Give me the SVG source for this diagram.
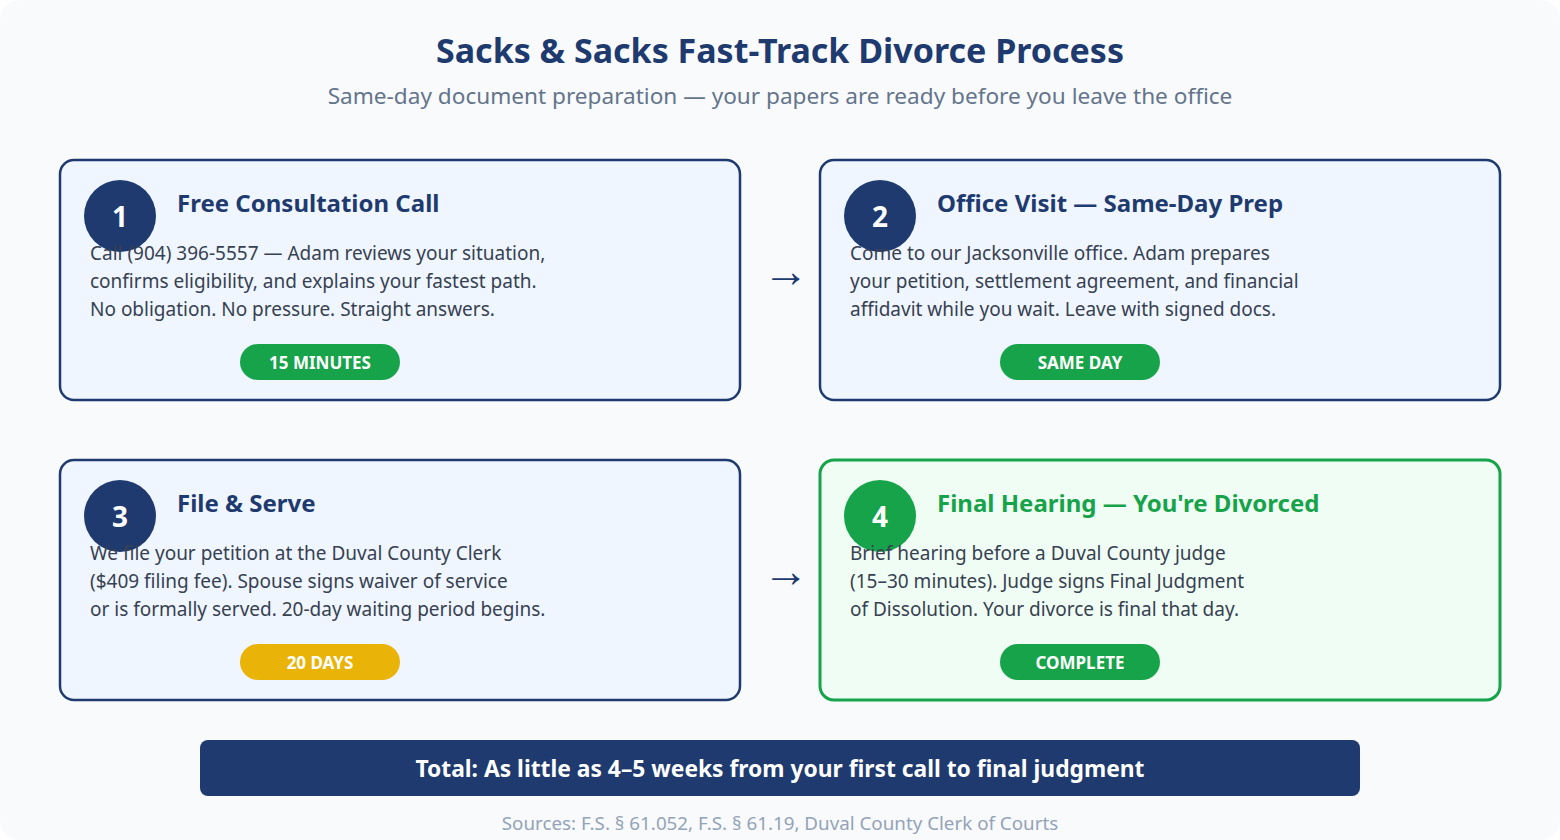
<svg xmlns="http://www.w3.org/2000/svg" width="1560" height="840" viewBox="0 0 1560 840">
<style>
text{font-family:"Noto Sans","Open Sans",sans-serif}
.card{fill:#eff6ff;stroke:#1e3a6e;stroke-width:2.5}
.cardg{fill:#f0fdf4;stroke:#16a34a;stroke-width:3}
.num{fill:#fff;font-size:28px;font-weight:700;text-anchor:middle}
.t{font-size:24px;font-weight:700;fill:#1e3a6e}
.b{font-size:19px;fill:#374151}
.bd{fill:#fff;font-size:17px;font-weight:700;text-anchor:middle}
.arr{font-size:46px;fill:#1e3a6e;text-anchor:middle}
</style>
<rect x="0" y="0" width="1560" height="840" rx="20" fill="#f8fafc"/>
<text x="780" y="63" text-anchor="middle" font-size="34" font-weight="700" fill="#1e3a6e">Sacks &amp; Sacks Fast-Track Divorce Process</text>
<text x="780" y="104" text-anchor="middle" font-size="22.6" fill="#64748b">Same-day document preparation — your papers are ready before you leave the office</text>
<g id="connectors">
<text class="arr" x="786" y="287">→</text>
<text class="arr" x="786" y="587">→</text>
</g>
<g id="step1">
<rect class="card" x="60" y="160" width="680" height="240" rx="14"/>
<circle cx="120" cy="216" r="36" fill="#1e3a6e"/><text class="num" x="120" y="227">1</text>
<text class="t" x="177" y="212">Free Consultation Call</text>
<text class="b" x="90" y="260">Call (904) 396-5557 — Adam reviews your situation,</text>
<text class="b" x="90" y="288">confirms eligibility, and explains your fastest path.</text>
<text class="b" x="90" y="316">No obligation. No pressure. Straight answers.</text>
<rect x="240" y="344" width="160" height="36" rx="18" fill="#16a34a"/><text class="bd" x="320" y="369">15 MINUTES</text>
</g>
<g id="step2">
<rect class="card" x="820" y="160" width="680" height="240" rx="14"/>
<circle cx="880" cy="216" r="36" fill="#1e3a6e"/><text class="num" x="880" y="227">2</text>
<text class="t" x="937" y="212">Office Visit — Same-Day Prep</text>
<text class="b" x="850" y="260">Come to our Jacksonville office. Adam prepares</text>
<text class="b" x="850" y="288">your petition, settlement agreement, and financial</text>
<text class="b" x="850" y="316">affidavit while you wait. Leave with signed docs.</text>
<rect x="1000" y="344" width="160" height="36" rx="18" fill="#16a34a"/><text class="bd" x="1080" y="369">SAME DAY</text>
</g>
<g id="step3">
<rect class="card" x="60" y="460" width="680" height="240" rx="14"/>
<circle cx="120" cy="516" r="36" fill="#1e3a6e"/><text class="num" x="120" y="527">3</text>
<text class="t" x="177" y="512">File &amp; Serve</text>
<text class="b" x="90" y="560">We file your petition at the Duval County Clerk</text>
<text class="b" x="90" y="588">($409 filing fee). Spouse signs waiver of service</text>
<text class="b" x="90" y="616">or is formally served. 20-day waiting period begins.</text>
<rect x="240" y="644" width="160" height="36" rx="18" fill="#eab308"/><text class="bd" x="320" y="669">20 DAYS</text>
</g>
<g id="step4">
<rect class="cardg" x="820" y="460" width="680" height="240" rx="14"/>
<circle cx="880" cy="516" r="36" fill="#16a34a"/><text class="num" x="880" y="527">4</text>
<text class="t" x="937" y="512" style="fill:#16a34a">Final Hearing — You're Divorced</text>
<text class="b" x="850" y="560">Brief hearing before a Duval County judge</text>
<text class="b" x="850" y="588">(15–30 minutes). Judge signs Final Judgment</text>
<text class="b" x="850" y="616">of Dissolution. Your divorce is final that day.</text>
<rect x="1000" y="644" width="160" height="36" rx="18" fill="#16a34a"/><text class="bd" x="1080" y="669">COMPLETE</text>
</g>
<g id="total">
<rect x="200" y="740" width="1160" height="56" rx="8" fill="#1e3a6e"/>
<text x="780" y="777" text-anchor="middle" font-size="22.8" font-weight="700" fill="#fff">Total: As little as 4–5 weeks from your first call to final judgment</text>
</g>
<text x="780" y="830" text-anchor="middle" font-size="18.8" fill="#94a3b8">Sources: F.S. § 61.052, F.S. § 61.19, Duval County Clerk of Courts</text>
</svg>
